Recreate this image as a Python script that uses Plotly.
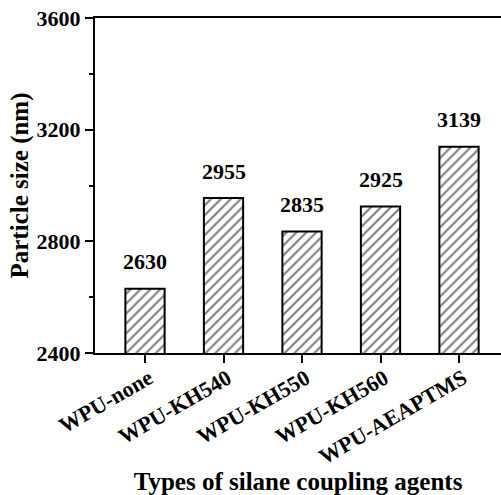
import plotly.graph_objects as go

# Particle size of WPU emulsions modified with different silane coupling agents
agents = ["WPU-none", "WPU-KH540", "WPU-KH550", "WPU-KH560", "WPU-AEAPTMS"]
particle_size = [2630, 2955, 2835, 2925, 3139]
y_ticks = [2400, 2800, 3200, 3600]

FONT = "Times New Roman, Liberation Serif, serif"

fig = go.Figure()
fig.add_trace(go.Bar(
    x=agents,
    y=particle_size,
    width=0.5,
    marker=dict(
        color="white",
        line=dict(color="black", width=2),
        pattern=dict(shape="/", size=7, solidity=0.3,
                     fgcolor="black", bgcolor="white"),
    ),
    showlegend=False,
))

# Value labels above each bar
for name, val in zip(agents, particle_size):
    fig.add_annotation(
        x=name, y=val, text=f"<b>{val}</b>", showarrow=False,
        yanchor="middle", yshift=27,
        font=dict(family=FONT, size=22, color="black"),
    )

fig.update_layout(
    width=501, height=495,
    margin=dict(l=95, r=0, t=18, b=142, autoexpand=False),
    paper_bgcolor="white", plot_bgcolor="white",
    font=dict(family=FONT, color="black"),
    bargap=0.5,
)

fig.update_xaxes(
    range=[-0.637, 4.535], automargin=False,
    showline=True, linecolor="black", linewidth=2, mirror=True,
    ticks="outside", ticklen=8, tickwidth=2, tickcolor="black",
    tickangle=-30, ticklabelstandoff=-6, ticklabelshift=4,
    tickfont=dict(family=FONT, size=22, color="black", weight="bold"),
    showgrid=False, zeroline=False,
    title=dict(text="<b>Types of silane coupling agents</b>",
               font=dict(family=FONT, size=25, color="black"), standoff=19),
)

fig.update_yaxes(
    range=[2400, 3600], automargin=False,
    tickvals=y_ticks,
    ticktext=[f"<b>{t}</b>" for t in y_ticks],
    showline=True, linecolor="black", linewidth=2,
    ticks="outside", ticklen=8, tickwidth=2, tickcolor="black",
    minor=dict(dtick=200, tick0=2400, ticks="outside", ticklen=4,
               tickwidth=2, tickcolor="black", showgrid=False),
    tickfont=dict(family=FONT, size=22, color="black"),
    showgrid=False, zeroline=False,
    title=dict(text="<b>Particle size (nm)</b>",
               font=dict(family=FONT, size=25, color="black"), standoff=1),
)

fig.write_html("out.html")
